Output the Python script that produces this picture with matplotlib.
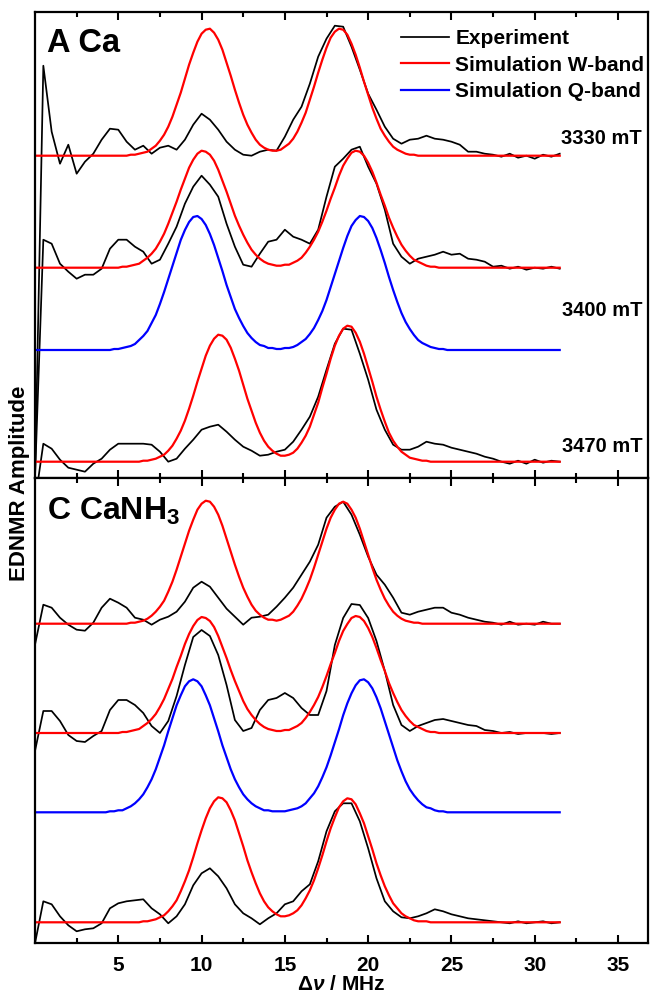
import numpy as np
import matplotlib.pyplot as plt

plt.rcParams['font.family'] = ['Liberation Sans', 'DejaVu Sans']
plt.rcParams['font.weight'] = 'bold'
plt.rcParams['mathtext.fontset'] = 'custom'
plt.rcParams['mathtext.rm'] = 'Liberation Sans:bold'
plt.rcParams['mathtext.bf'] = 'Liberation Sans:bold'
plt.rcParams['mathtext.it'] = 'Liberation Sans:italic'

# measured traces: 0 .. 31.5 MHz, step 0.5
freq = np.arange(0, 32, 0.5)
# simulations: 0 .. 31.5 MHz, step 0.25
freq_sim = np.arange(0, 31.75, 0.25)

# panel A (Ca), amplitudes relative to each trace's own baseline
exp_3330 = [-322, 90, 24, -8, 11, -18, -6, 2, 16, 27,
            26, 14, 6, 10, 2, 8, 10, 6, 16, 31,
            42, 36, 26, 14, 6, 1, 0, 4, 6, 5,
            19, 36, 49, 72, 99, 117, 130, 129, 109, 86,
            62, 46, 29, 17, 12, 16, 17, 20, 17, 16,
            14, 11, 4, 4, 2, 1, -1, 2, -2, 0,
            -3, 1, -1, 2]
exp_3400 = [-210, 28, 24, 4, -4, -11, -7, -7, -1, 19,
            28, 28, 21, 16, 4, 8, 24, 41, 64, 81,
            92, 83, 71, 44, 21, 3, 1, 14, 26, 28,
            38, 31, 28, 24, 38, 71, 101, 109, 118, 121,
            101, 84, 58, 24, 11, 4, 9, 11, 13, 16,
            13, 14, 9, 8, 6, 1, 2, -1, 1, -2,
            0, -1, 1, -1]
exp_3470 = [-40, 18, 13, 2, -6, -8, -10, -2, 3, 12,
            18, 18, 18, 18, 17, 10, 0, 3, 13, 22,
            32, 35, 37, 30, 22, 15, 11, 6, 7, 10,
            12, 20, 32, 45, 65, 92, 118, 133, 132, 108,
            82, 52, 32, 17, 12, 12, 15, 20, 18, 17,
            14, 12, 10, 8, 5, 3, 0, -2, 1, -2,
            2, -1, 1, 0]

simw_3330 = [0, 0, 0, 0, 0, 0, 0, 0,
             0, 0, 0, 0, 0, 0, 0, 0,
             0, 0, 0, 0, 0, 0, 0, 1,
             1, 2, 3, 4, 7, 10, 15, 21,
             29, 39, 51, 63, 77, 91, 103, 114,
             122, 126, 127, 123, 116, 106, 93, 80,
             66, 53, 41, 31, 23, 16, 11, 8,
             6, 5, 5, 6, 9, 12, 17, 24,
             33, 43, 56, 69, 83, 96, 108, 118,
             124, 127, 126, 121, 112, 101, 88, 74,
             61, 48, 37, 27, 20, 14, 9, 6,
             4, 2, 1, 1, 0, 0, 0, 0,
             0, 0, 0, 0, 0, 0, 0, 0,
             0, 0, 0, 0, 0, 0, 0, 0,
             0, 0, 0, 0, 0, 0, 0, 0,
             0, 0, 0, 0, 0, 0, 0]
simw_3400 = [0, 0, 0, 0, 0, 0, 0, 0,
             0, 0, 0, 0, 0, 0, 0, 0,
             0, 0, 0, 0, 0, 1, 1, 2,
             3, 4, 7, 10, 14, 19, 26, 34,
             44, 55, 66, 78, 89, 100, 108, 114,
             117, 116, 113, 107, 98, 87, 76, 64,
             52, 42, 33, 25, 18, 13, 9, 6,
             4, 3, 2, 2, 3, 3, 5, 7,
             10, 15, 21, 28, 36, 46, 57, 69,
             80, 92, 102, 109, 115, 117, 116, 112,
             105, 96, 85, 73, 62, 50, 40, 31,
             23, 17, 12, 8, 6, 4, 2, 1,
             1, 0, 0, 0, 0, 0, 0, 0,
             0, 0, 0, 0, 0, 0, 0, 0,
             0, 0, 0, 0, 0, 0, 0, 0,
             0, 0, 0, 0, 0, 0, 0]
simq_3400 = [0, 0, 0, 0, 0, 0, 0, 0,
             0, 0, 0, 0, 0, 0, 0, 0,
             0, 0, 0, 1, 1, 2, 3, 4,
             6, 10, 14, 19, 27, 35, 46, 58,
             71, 84, 97, 110, 120, 128, 133, 134,
             131, 125, 116, 105, 92, 79, 65, 53,
             41, 32, 24, 17, 12, 8, 5, 4,
             2, 2, 1, 1, 2, 2, 3, 5,
             8, 11, 16, 22, 30, 39, 50, 63,
             76, 89, 102, 114, 124, 130, 134, 133,
             129, 122, 112, 100, 87, 73, 60, 48,
             37, 28, 21, 15, 10, 7, 5, 3,
             2, 1, 1, 0, 0, 0, 0, 0,
             0, 0, 0, 0, 0, 0, 0, 0,
             0, 0, 0, 0, 0, 0, 0, 0,
             0, 0, 0, 0, 0, 0, 0]
simw_3470 = [0, 0, 0, 0, 0, 0, 0, 0,
             0, 0, 0, 0, 0, 0, 0, 0,
             0, 0, 0, 0, 0, 0, 0, 0,
             0, 0, 1, 1, 2, 3, 5, 7,
             11, 16, 23, 31, 41, 53, 66, 80,
             93, 106, 116, 123, 127, 126, 122, 114,
             103, 91, 77, 63, 51, 39, 29, 21,
             15, 11, 8, 6, 6, 7, 9, 13,
             19, 26, 35, 47, 59, 74, 88, 103,
             116, 126, 133, 136, 135, 129, 120, 108,
             94, 80, 65, 52, 40, 29, 21, 15,
             10, 7, 4, 3, 2, 1, 1, 0,
             0, 0, 0, 0, 0, 0, 0, 0,
             0, 0, 0, 0, 0, 0, 0, 0,
             0, 0, 0, 0, 0, 0, 0, 0,
             0, 0, 0, 0, 0, 0, 0]

# panel C (CaNH3)
exp_c1 = [-21, 19, 16, 6, -1, -6, -7, 1, 16, 25,
          21, 16, 6, 4, -1, 4, 7, 12, 22, 36,
          42, 37, 26, 15, 7, -1, 6, 7, 9, 17,
          26, 36, 49, 62, 79, 106, 117, 122, 109, 89,
          67, 49, 39, 26, 11, 9, 12, 14, 16, 16,
          11, 9, 6, 4, 2, 1, -1, 2, -1, 0,
          -1, 2, 0, 0]
exp_c2 = [-18, 22, 22, 12, -2, -8, -9, -3, 2, 23,
          33, 33, 28, 20, 7, 0, 12, 37, 68, 96,
          103, 97, 78, 48, 13, 2, 5, 23, 33, 35,
          40, 35, 25, 18, 18, 42, 88, 115, 129, 128,
          115, 92, 62, 28, 8, 2, 7, 10, 13, 14,
          12, 10, 8, 7, 3, 2, 0, 1, -1, 0,
          0, 0, -1, 0]
exp_c3 = [-21, 21, 18, 6, -3, -9, -7, -6, -1, 14,
          19, 21, 22, 23, 14, 8, -1, 6, 18, 37,
          49, 54, 46, 34, 18, 9, 4, -2, 4, 9,
          18, 21, 31, 38, 61, 91, 111, 119, 119, 101,
          74, 44, 21, 11, 5, 4, 6, 9, 13, 11,
          8, 6, 4, 3, 2, 1, 0, -1, 1, -1,
          0, 1, -1, 0]

simw_c1 = [0, 0, 0, 0, 0, 0, 0, 0,
           0, 0, 0, 0, 0, 0, 0, 0,
           0, 0, 0, 0, 0, 0, 0, 1,
           1, 2, 3, 5, 8, 12, 17, 23,
           32, 42, 54, 67, 80, 93, 104, 114,
           120, 123, 122, 117, 109, 98, 85, 72,
           59, 47, 36, 27, 19, 13, 9, 6,
           4, 4, 3, 4, 6, 8, 12, 18,
           25, 34, 44, 56, 69, 82, 95, 106,
           114, 120, 122, 120, 114, 106, 95, 82,
           69, 56, 44, 34, 25, 18, 12, 8,
           5, 3, 2, 1, 1, 0, 0, 0,
           0, 0, 0, 0, 0, 0, 0, 0,
           0, 0, 0, 0, 0, 0, 0, 0,
           0, 0, 0, 0, 0, 0, 0, 0,
           0, 0, 0, 0, 0, 0, 0]
simw_c2 = [0, 0, 0, 0, 0, 0, 0, 0,
           0, 0, 0, 0, 0, 0, 0, 0,
           0, 0, 0, 0, 0, 1, 1, 2,
           3, 4, 7, 10, 14, 19, 26, 34,
           44, 54, 66, 77, 89, 99, 107, 113,
           116, 115, 112, 106, 97, 86, 75, 63,
           52, 42, 32, 24, 18, 13, 9, 6,
           4, 3, 2, 2, 3, 3, 5, 7,
           10, 15, 21, 28, 36, 46, 57, 69,
           80, 92, 102, 109, 115, 117, 116, 112,
           105, 96, 85, 73, 62, 50, 40, 31,
           23, 17, 12, 8, 6, 4, 2, 1,
           1, 0, 0, 0, 0, 0, 0, 0,
           0, 0, 0, 0, 0, 0, 0, 0,
           0, 0, 0, 0, 0, 0, 0, 0,
           0, 0, 0, 0, 0, 0, 0]
simq_c2 = [0, 0, 0, 0, 0, 0, 0, 0,
           0, 0, 0, 0, 0, 0, 0, 0,
           0, 0, 1, 1, 2, 2, 4, 6,
           9, 13, 18, 25, 33, 43, 55, 67,
           81, 94, 107, 117, 126, 131, 133, 131,
           126, 117, 107, 94, 81, 67, 55, 43,
           33, 25, 18, 13, 9, 6, 4, 2,
           2, 1, 1, 1, 1, 2, 3, 4,
           6, 9, 14, 19, 26, 35, 45, 57,
           70, 83, 97, 109, 119, 127, 132, 133,
           130, 124, 115, 104, 91, 78, 65, 52,
           41, 31, 23, 17, 12, 8, 5, 4,
           2, 1, 1, 0, 0, 0, 0, 0,
           0, 0, 0, 0, 0, 0, 0, 0,
           0, 0, 0, 0, 0, 0, 0, 0,
           0, 0, 0, 0, 0, 0, 0]
simw_c3 = [0, 0, 0, 0, 0, 0, 0, 0,
           0, 0, 0, 0, 0, 0, 0, 0,
           0, 0, 0, 0, 0, 0, 0, 0,
           0, 0, 1, 1, 2, 3, 5, 7,
           11, 16, 22, 31, 41, 52, 65, 79,
           92, 104, 114, 121, 125, 124, 120, 112,
           102, 89, 76, 62, 50, 39, 29, 21,
           15, 11, 8, 6, 6, 7, 9, 12,
           17, 24, 32, 42, 54, 67, 81, 94,
           105, 115, 121, 124, 123, 118, 109, 99,
           86, 73, 59, 47, 36, 27, 19, 14,
           9, 6, 4, 2, 1, 1, 1, 0,
           0, 0, 0, 0, 0, 0, 0, 0,
           0, 0, 0, 0, 0, 0, 0, 0,
           0, 0, 0, 0, 0, 0, 0, 0,
           0, 0, 0, 0, 0, 0, 0]

fields = ['3330 mT', '3400 mT', '3470 mT']

fig = plt.figure(figsize=(6.5, 9.96), dpi=100)
ax_a = fig.add_axes([35 / 650, 1 - 478 / 996, 613 / 650, 466.3 / 996])
ax_c = fig.add_axes([35 / 650, 1 - 943 / 996, 613 / 650, 465 / 996])

lw_exp = 1.25
lw_sim = 1.6
# vertical stacking of traces
off_a = [322.3, 210.3, 16.3]
off_aq = 128
off_c = [319.3, 210, 20.7]
off_cq = 130.7

ax_a.plot(freq, np.array(exp_3330) + off_a[0], color='black', lw=lw_exp, label='Experiment')
ax_a.plot(freq, np.array(exp_3400) + off_a[1], color='black', lw=lw_exp)
ax_a.plot(freq, np.array(exp_3470) + off_a[2], color='black', lw=lw_exp)
ax_a.plot(freq_sim, np.array(simw_3330) + off_a[0], color='#ff0000', lw=lw_sim, label='Simulation W-band')
ax_a.plot(freq_sim, np.array(simw_3400) + off_a[1], color='#ff0000', lw=lw_sim)
ax_a.plot(freq_sim, np.array(simw_3470) + off_a[2], color='#ff0000', lw=lw_sim)
ax_a.plot(freq_sim, np.array(simq_3400) + off_aq, color='#0000ff', lw=lw_sim, label='Simulation Q-band')

ax_c.plot(freq, np.array(exp_c1) + off_c[0], color='black', lw=lw_exp)
ax_c.plot(freq, np.array(exp_c2) + off_c[1], color='black', lw=lw_exp)
ax_c.plot(freq, np.array(exp_c3) + off_c[2], color='black', lw=lw_exp)
ax_c.plot(freq_sim, np.array(simw_c1) + off_c[0], color='#ff0000', lw=lw_sim)
ax_c.plot(freq_sim, np.array(simw_c2) + off_c[1], color='#ff0000', lw=lw_sim)
ax_c.plot(freq_sim, np.array(simw_c3) + off_c[2], color='#ff0000', lw=lw_sim)
ax_c.plot(freq_sim, np.array(simq_c2) + off_cq, color='#0000ff', lw=lw_sim)

ax_a.set_ylim(0, 466.3)
ax_c.set_ylim(0, 465)
for ax in (ax_a, ax_c):
    ax.set_xlim(0, 36.8)
    ax.set_xticks([5, 10, 15, 20, 25, 30, 35])
    ax.set_xticks(np.arange(2.5, 36, 5), minor=True)
    ax.set_yticks([])
    ax.tick_params(axis='x', which='both', direction='in', top=True, bottom=True,
                   width=1.5, labelsize=15, pad=9)
    ax.tick_params(axis='x', which='major', length=6)
    ax.tick_params(axis='x', which='minor', length=3.5)
    for s in ax.spines.values():
        s.set_linewidth(1.6)
ax_a.tick_params(axis='x', labelbottom=False)

for name, y in zip(fields, [339, 168, 31]):
    ax_a.text(36.45, y, name, ha='right', va='center', fontsize=14.5, fontweight='bold')

ax_a.text(0.7, 426, 'A Ca', fontsize=23.5, fontweight='bold', va='baseline')
ax_c.text(0.7, 423, r'C CaNH$_\mathbf{3}$', fontsize=23, fontweight='bold', va='baseline')

ax_a.legend(loc='upper left', bbox_to_anchor=(0.597, 0.962), frameon=False,
            fontsize=15, handlelength=2.3, handletextpad=0.3, labelspacing=0.35,
            borderpad=0, borderaxespad=0)

ax_c.set_xlabel('Δ$\\nu$ / MHz', fontsize=15, fontweight='bold', labelpad=0)
fig.text(0.03, 0.515, 'EDNMR Amplitude', rotation=90, ha='center', va='center',
         fontsize=16, fontweight='bold')

fig.savefig('out.png', dpi=100)
